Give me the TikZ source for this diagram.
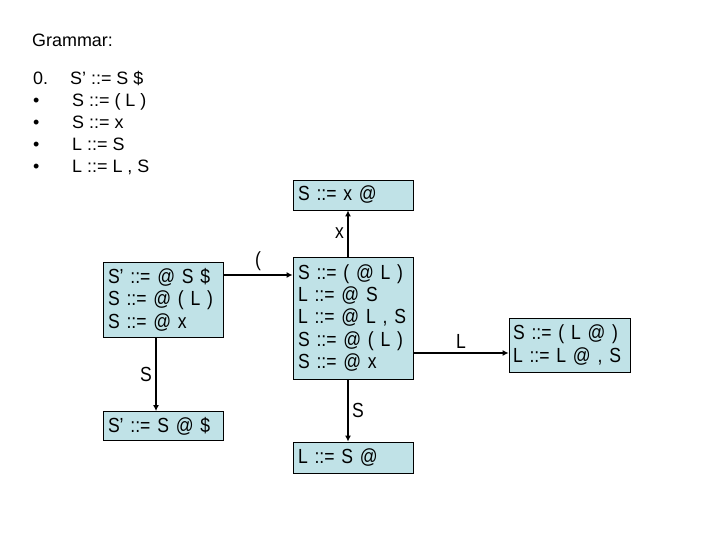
\documentclass[tikz,border=0pt]{standalone}
\usepackage{fontspec}
\setmainfont{Liberation Sans}
\newfontfamily\itemfont{Liberation Sans}[FakeStretch=0.86,WordSpace=0.85]
\usetikzlibrary{arrows.meta}
\definecolor{itemfill}{RGB}{192,226,231}

\begin{document}
\begin{tikzpicture}[x=1bp,y=-1bp,>={Latex[length=6bp,width=6bp]},
        every node/.style={font=\itemfont\fontsize{20.5}{22.5}\selectfont},
        state/.style={shape=rectangle,draw=black,line width=0.8bp,fill=itemfill,align=left,
                      inner xsep=5bp,inner ysep=0pt,text width=110bp}]
        \useasboundingbox (0,0) rectangle (720,540);
        % grammar
        \node[anchor=base west,inner sep=0pt,font=\fontsize{18}{22}\selectfont] (title) at (32,46.4) {Grammar:};
        \node[anchor=north west,inner sep=0pt,font=\fontsize{18}{22}\selectfont] (rules) at (33,69) {%
            \begin{tabular}{@{}l@{\hspace{24bp}}l@{}}
            0. & \hspace{-2bp}S’ ::= S \$\\
            • & S ::= ( L )\\
            • & S ::= x\\
            • & L ::= S\\
            • & L ::= L , S
            \end{tabular}};
        % item sets
        \node[state,minimum height=75bp] (I0) at (163,299.5) {S’ ::= @ S \$\\S ::= @ ( L )\\S ::= @ x};
        \node[state,minimum height=29bp] (I1) at (163,426) {S’ ::= S @ \$};
        \node[state,minimum height=122bp] (I2) at (353,318) {S ::= ( @ L )\\L ::= @ S\\L ::= @ L , S\\S ::= @ ( L )\\S ::= @ x};
        \node[state,minimum height=30bp] (I3) at (353,195) {S ::= x @};
        \node[state,minimum height=31bp] (I4) at (353,457.5) {L ::= S @};
        \node[state,minimum height=54bp,inner xsep=4bp,text width=113bp] (I5) at (569.5,345) {S ::= ( L @ )\\L ::= L @ , S};
        % transitions
        \path [->,line width=1.5bp] ([xshift=-7bp]I0.south) edge node[left]{S} ([xshift=-7bp]I1.north);
        \path [->,line width=1.5bp] ([yshift=24.5bp]I0.east) edge node[above]{(} ([yshift=24.5bp]I0.east -| I2.west);
        \path [->,line width=1.5bp] ([xshift=-5bp]I2.north) edge node[left]{x} ([xshift=-5bp]I3.south);
        \path [->,line width=1.5bp] ([xshift=-5bp]I2.south) edge node[right]{S} ([xshift=-5bp]I4.north);
        \path [->,line width=1.5bp] ([yshift=-35bp]I2.east) edge node[above]{L} ([yshift=-35bp]I2.east -| I5.west);
\end{tikzpicture}
\end{document}
